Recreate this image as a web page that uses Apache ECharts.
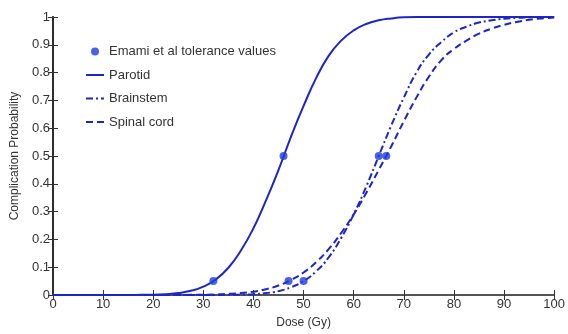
<!DOCTYPE html>
<html>
<head>
<meta charset="utf-8">
<script src="https://cdn.jsdelivr.net/npm/echarts@6/dist/echarts.min.js"></script>
<style>
  html, body { margin: 0; padding: 0; background: #fff; }
  #chart { width: 568px; height: 334px; }
</style>
</head>
<body>
<div id="chart"></div>
<script>
// dose values (Gy) where the curves were read
const doseX = [0, 2.5, 5, 7.5, 10, 12.5, 15, 17.5, 20, 22.5, 25, 27.5, 30, 32.5, 35, 37.5, 40, 42.5, 45, 47.5,
  50, 52.5, 55, 57.5, 60, 62.5, 65, 67.5, 70, 72.5, 75, 77.5, 80, 82.5, 85, 87.5, 90, 92.5, 95, 97.5, 100]

// complication probability for each organ
const parotid = [0, 0, 0, 0, 0, 0, 0, 0.0005, 0.001, 0.003, 0.007, 0.015, 0.03, 0.056, 0.098, 0.16, 0.24, 0.34, 0.45, 0.57,
  0.68, 0.78, 0.86, 0.915, 0.952, 0.975, 0.988, 0.995, 0.999, 1, 1, 1, 1, 1, 1, 1, 1, 1, 1, 1, 1]
const brainstem = [0, 0, 0, 0, 0, 0, 0, 0, 0, 0, 0, 0, 0, 0.0002, 0.0005, 0.0013, 0.003, 0.007, 0.014, 0.028,
  0.05, 0.085, 0.135, 0.205, 0.29, 0.39, 0.5, 0.61, 0.71, 0.8, 0.865, 0.91, 0.945, 0.965, 0.98, 0.988, 0.994, 0.997, 0.999, 1, 1]
const spinalCord = [0, 0, 0, 0, 0, 0, 0, 0, 0, 0, 0, 0.0005, 0.001, 0.002, 0.004, 0.007, 0.012, 0.021, 0.034, 0.054,
  0.081, 0.118, 0.165, 0.223, 0.29, 0.367, 0.45, 0.535, 0.625, 0.71, 0.785, 0.845, 0.885, 0.915, 0.94, 0.958, 0.972, 0.982, 0.99, 0.995, 0.998]

// Emami et al tolerance values (TD5 / TD50)
const emamiDose = [32, 46, 50, 65, 47, 66.5]
const emamiProb = [0.05, 0.5, 0.05, 0.5, 0.05, 0.5]

const blue = '#1c26c8'
const font = 'Liberation Sans, Arial, sans-serif'

const pairs = (xs, ys) => xs.map((x, i) => [x, ys[i]])

const chart = echarts.init(document.getElementById('chart'))

// shared axis look: ticks point inward, no grid lines
const xBase = { type: 'value', min: 0, max: 100, interval: 10, splitLine: { show: false },
  axisTick: { inside: true, length: 5, lineStyle: { color: '#333' } } }
const yBase = { type: 'value', min: 0, max: 1, interval: 0.1, splitLine: { show: false },
  axisTick: { inside: true, length: 5, lineStyle: { color: '#333' } } }

const lineSeries = (name, ys, dash) => ({
  name: name,
  type: 'line',
  data: pairs(doseX, ys),
  smooth: 0.5,
  showSymbol: false,
  symbol: 'none',
  lineStyle: { color: blue, width: 2, type: dash },
  itemStyle: { color: blue },
  z: 3
})

// legend entries for lines: hide the little symbol, keep the stroke
const lineEntry = (name) => ({ name: name, itemStyle: { opacity: 0 } })

chart.setOption({
  animation: false,
  textStyle: { fontFamily: font },
  grid: { left: 53, right: 11, top: 17, bottom: 32 },
  legend: {
    orient: 'vertical',
    left: 80,
    top: 40,
    itemWidth: 18,
    itemHeight: 8,
    itemGap: 10.5,
    textStyle: { fontSize: 13, color: '#333', fontFamily: font },
    data: [
      { name: 'Emami et al tolerance values', icon: 'circle' },
      lineEntry('Parotid'), lineEntry('Brainstem'), lineEntry('Spinal cord')
    ]
  },
  xAxis: [
    Object.assign({}, xBase, {
      position: 'bottom',
      name: 'Dose (Gy)',
      nameLocation: 'middle',
      nameGap: 22,
      nameTextStyle: { fontSize: 12, color: '#333' },
      axisLine: { lineStyle: { color: '#222', width: 2 } },
      axisLabel: { fontSize: 13, color: '#333', margin: 3 }
    }),
    Object.assign({}, xBase, {
      position: 'top',
      axisLine: { lineStyle: { color: '#666', width: 1.5 } },
      axisLabel: { show: false }
    })
  ],
  yAxis: [
    Object.assign({}, yBase, {
      position: 'left',
      name: 'Complication Probability',
      nameLocation: 'middle',
      nameGap: 29,
      nameTextStyle: { fontSize: 12, color: '#333' },
      axisLine: { lineStyle: { color: '#222', width: 2 } },
      axisLabel: { fontSize: 13, color: '#333', margin: 3 }
    }),
    Object.assign({}, yBase, {
      position: 'right',
      axisLine: { lineStyle: { color: '#333', width: 1.5 } },
      axisLabel: { show: false }
    })
  ],
  series: [
    {
      name: 'Emami et al tolerance values',
      type: 'scatter',
      data: pairs(emamiDose, emamiProb),
      symbolSize: 8,
      itemStyle: { color: '#1f3be0' },
      z: 4
    },
    lineSeries('Parotid', parotid, 'solid'),
    lineSeries('Brainstem', brainstem, [7, 3, 2, 3]),
    lineSeries('Spinal cord', spinalCord, [7, 4])
  ]
})
</script>
</body>
</html>
